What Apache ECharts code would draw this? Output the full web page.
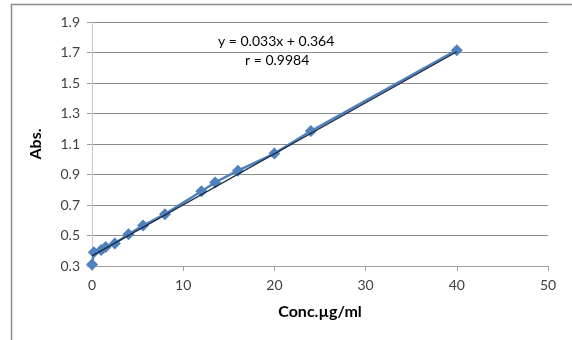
<!DOCTYPE html>
<html>
<head>
<meta charset="utf-8">
<script src="https://cdn.jsdelivr.net/npm/echarts@6/dist/echarts.min.js"></script>
<style>
  html, body { margin: 0; padding: 0; background: #fff; }
  #chart { width: 572px; height: 340px; }
</style>
</head>
<body>
<div id="chart"></div>
<script>
// measured points (conc vs absorbance)
const concValues = [0, 0.2, 1, 1.5, 2.5, 4, 5.6, 8, 12, 13.5, 16, 20, 24, 40];
const absValues = [0.31, 0.39, 0.405, 0.425, 0.447, 0.508, 0.565, 0.64, 0.79, 0.848, 0.925, 1.037, 1.185, 1.715];

// linear trendline ends
const trendX = [0, 40];
const trendY = [0.366, 1.705];

const equationText = ['y = 0.033x + 0.364', 'r = 0.9984'];

const chart = echarts.init(document.getElementById('chart'));

const font = 'Lato, "Open Sans", sans-serif';

const option = {
  animation: false,
  grid: { left: 92, right: 24, top: 22, bottom: 74 },
  xAxis: {
    type: 'value',
    min: 0,
    max: 50,
    interval: 10,
    name: 'Conc.µg/ml',
    nameLocation: 'middle',
    nameGap: 38,
    nameTextStyle: { fontFamily: font, fontWeight: 'bold', fontSize: 16, color: '#000' },
    axisLine: { lineStyle: { color: '#a0a0a0', width: 1 } },
    axisTick: { show: true, length: 5, lineStyle: { color: '#a0a0a0' } },
    axisLabel: { fontFamily: font, fontSize: 14, color: '#404040', margin: 12 },
    splitLine: { show: false }
  },
  yAxis: {
    type: 'value',
    min: 0.3,
    max: 1.9,
    interval: 0.2,
    name: 'Abs.',
    nameLocation: 'middle',
    nameRotate: 90,
    nameGap: 48,
    nameTextStyle: { fontFamily: font, fontWeight: 'bold', fontSize: 16, color: '#000' },
    axisLine: { show: true, lineStyle: { color: '#c8c8c8', width: 1 } },
    axisTick: { show: true, length: 5, lineStyle: { color: '#a0a0a0' } },
    axisLabel: {
      fontFamily: font, fontSize: 14, color: '#404040', margin: 12,
      formatter: v => v.toFixed(1)
    },
    splitLine: { lineStyle: { color: '#8c8c8c', width: 1 } }
  },
  series: [
    {
      type: 'line',
      data: concValues.map((x, i) => [x, absValues[i]]),
      symbol: 'diamond',
      symbolSize: 12,
      itemStyle: { color: '#4f81bd' },
      lineStyle: { color: '#4f81bd', width: 2.5 },
      z: 2
    },
    {
      type: 'line',
      data: trendX.map((x, i) => [x, trendY[i]]),
      symbol: 'none',
      lineStyle: { color: '#1c2a44', width: 1.3 },
      z: 3
    }
  ],
  graphic: [
    {
      type: 'rect',
      shape: { x: 11.5, y: 4.5, width: 600, height: 400 },
      style: { fill: 'none', stroke: '#8a8a8a', lineWidth: 1.5 },
      silent: true
    },
    {
      type: 'text',
      left: 218,
      top: 34,
      style: {
        text: equationText[0],
        font: '14px ' + font,
        fill: '#000'
      }
    },
    {
      type: 'text',
      left: 245,
      top: 53,
      style: {
        text: equationText[1],
        font: '14px ' + font,
        fill: '#000'
      }
    }
  ]
};

chart.setOption(option);
</script>
</body>
</html>
